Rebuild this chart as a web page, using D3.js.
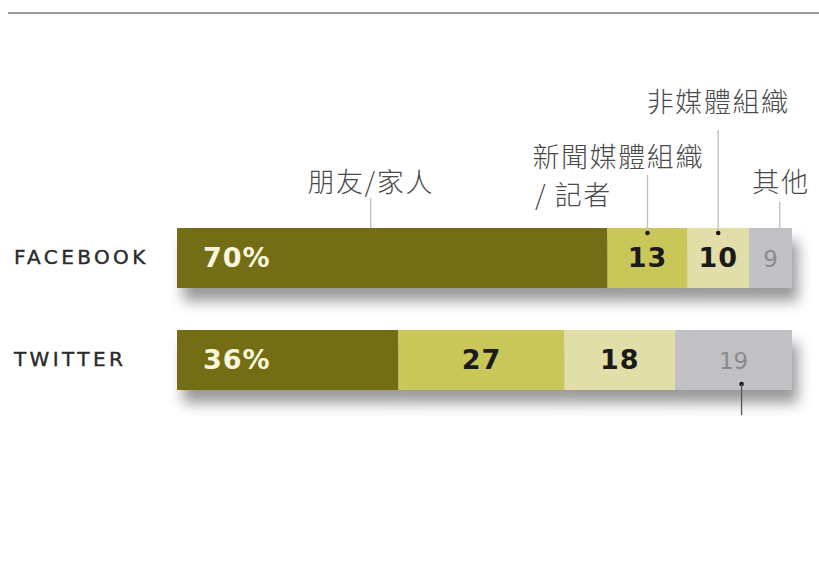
<!DOCTYPE html>
<html><head><meta charset="utf-8">
<script src="https://cdn.jsdelivr.net/npm/d3@7"></script>
<style>
html,body{margin:0;padding:0;background:#fff;}
svg{display:block;}
</style></head>
<body>
<svg id="c" width="819" height="564"></svg>
<script>
const platforms = ["FACEBOOK", "TWITTER"];
const categories = ["朋友/家人", "新聞媒體組織 / 記者", "非媒體組織", "其他"];
const facebook = [70, 13, 10, 9];
const twitter = [36, 27, 18, 19];
const colors = ["#736e14", "#c9c75a", "#e1deaa", "#c1c1c5"];
const labelColors = ["#fbf7dc", "#1a1a1a", "#1a1a1a", "#8a8a8a"];
const labelWeights = ["bold", "bold", "bold", "normal"];

const svg = d3.select("#c");
const W = 819, H = 564;

// top rule
svg.append("line").attr("x1", 8).attr("x2", W).attr("y1", 13).attr("y2", 13)
  .attr("stroke", "#9a9a9a").attr("stroke-width", 2);

const x = d3.scaleLinear().domain([0, 100]).range([177, 792]).clamp(true);
const y = d3.scaleBand().domain(platforms).range([228, 390]).paddingInner(42 / 102);

const defs = svg.append("defs");
const f = defs.append("filter").attr("id", "sh").attr("x", "-10%").attr("y", "-50%").attr("width", "130%").attr("height", "250%");
f.append("feDropShadow").attr("dx", 6).attr("dy", 13).attr("stdDeviation", 7)
  .attr("flood-color", "#000").attr("flood-opacity", 0.4);

const rows = [facebook, twitter].map((vals, i) => {
  let c = 0;
  return vals.map((v, j) => { const s = c; c += v; return {platform: platforms[i], j, v, s, e: c}; });
});

// platform labels
svg.selectAll("text.plat").data(platforms).join("text")
  .attr("class", "plat")
  .attr("x", 14)
  .attr("y", d => y(d) + y.bandwidth() / 2 + 6)
  .attr("font-family", "DejaVu Sans, Verdana, sans-serif")
  .attr("font-size", 20)
  .attr("letter-spacing", 3.4)
  .attr("fill", "#2a2a2a")
  .attr("stroke", "#2a2a2a").attr("stroke-width", 0.4)
  .text(d => d);

const g = svg.selectAll("g.row").data(rows).join("g").attr("class", "row").attr("filter", "url(#sh)");
g.selectAll("rect").data(d => d).join("rect")
  .attr("x", d => x(d.s))
  .attr("width", d => x(d.e) - x(d.s))
  .attr("y", d => y(d.platform))
  .attr("height", y.bandwidth())
  .attr("fill", d => colors[d.j]);

const lg = svg.selectAll("g.lab").data(rows).join("g").attr("class", "lab");
lg.selectAll("text").data(d => d).join("text")
  .attr("x", d => d.j === 0 ? x(d.s) + 26 : (x(d.s) + x(d.e)) / 2)
  .attr("y", d => y(d.platform) + y.bandwidth() / 2 + 9)
  .attr("text-anchor", d => d.j === 0 ? "start" : "middle")
  .attr("font-family", "DejaVu Sans, Verdana, sans-serif")
  .attr("font-size", d => d.j === 3 ? 23 : 27)
  .attr("letter-spacing", d => d.j === 3 ? 0 : 1)
  .attr("font-weight", d => labelWeights[d.j])
  .attr("fill", d => labelColors[d.j])
  .text(d => d.j === 0 ? d.v + "%" : d.v);

// callouts
const fbTop = y("FACEBOOK");
const twBot = y("TWITTER") + y.bandwidth();
const cjk = "'Noto Sans CJK TC', 'Noto Sans CJK SC', sans-serif";
const callouts = [
  {at: 31.5, text: "朋友/家人", tx: 31.5, anchor: "middle", textBase: 192, lineTop: 198, dot: false},
  {at: 76.5, text: "新聞媒體組織", tx: 57.8, anchor: "start", textBase: 167, lineTop: 175, dot: true},
  {at: 76.5, text: "/  記者", tx: 58.2, anchor: "start", textBase: 205, dot: false, noLine: true},
  {at: 88, text: "非媒體組織", tx: 88, anchor: "middle", textBase: 112, lineTop: 130, dot: true},
  {at: 98, text: "其他", tx: 98.2, anchor: "middle", textBase: 192, lineTop: 202, dot: false}
];
callouts.forEach(c => {
  if (!c.noLine) {
    svg.append("line").attr("x1", x(c.at)).attr("x2", x(c.at))
      .attr("y1", c.lineTop).attr("y2", fbTop + (c.dot ? 5 : 0))
      .attr("stroke", "#bdbdbd").attr("stroke-width", 1.3);
    if (c.dot) svg.append("circle").attr("cx", x(c.at)).attr("cy", fbTop + 5).attr("r", 2.3).attr("fill", "#1a1a1a");
  }
  svg.append("text").attr("x", x(c.tx)).attr("y", c.textBase)
    .attr("text-anchor", c.anchor).attr("font-family", cjk).attr("font-size", 27)
    .attr("letter-spacing", 1.6)
    .attr("font-weight", 300).attr("fill", "#4a4a4a").text(c.text);
});
// twitter "other" callout below
const twOther = 91.8;
svg.append("circle").attr("cx", x(twOther)).attr("cy", twBot - 6).attr("r", 2.3).attr("fill", "#1a1a1a");
svg.append("line").attr("x1", x(twOther)).attr("x2", x(twOther)).attr("y1", twBot - 6).attr("y2", twBot + 25)
  .attr("stroke", "#555").attr("stroke-width", 1.3);
</script>
</body></html>
